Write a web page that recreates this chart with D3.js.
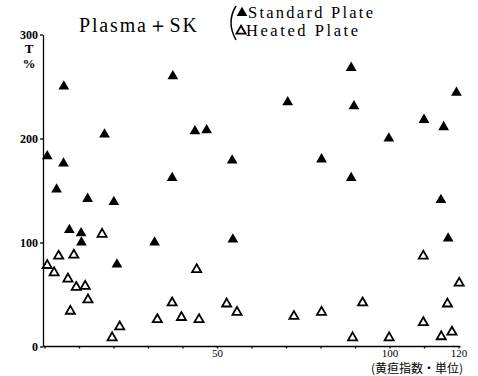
<!DOCTYPE html>
<html>
<head>
<meta charset="utf-8">
<script src="https://cdn.jsdelivr.net/npm/d3@7/dist/d3.min.js"></script>
<style>
  html, body { margin: 0; padding: 0; background: #fff; }
  svg { display: block; }
  text { font-family: "Liberation Serif", "DejaVu Serif", serif; fill: #000; }
</style>
</head>
<body>
<svg id="chart" width="478" height="376"></svg>
<script>
// Jaundice index (x) vs. T % (y), Plasma + SK
const standardX = [0.8, 5.6, 3.5, 5.5, 17.4, 12.5, 20.1, 37.2, 37.0, 7.2, 10.6, 10.7, 21.0, 31.9,
  43.6, 47.0, 54.4, 54.6, 70.5, 80.3, 88.9, 89.7, 88.9, 99.8, 110.0, 115.7, 119.4, 114.9, 117.0];
const standardY = [183, 250, 151, 176, 204, 142, 139, 260, 162, 112, 109, 100, 79, 100,
  207, 208, 179, 103, 235, 180, 268, 231, 162, 200, 218, 211, 244, 141, 104];

const heatedX = [0.8, 2.8, 4.1, 6.8, 8.5, 9.2, 11.8, 12.6, 7.5, 16.7, 19.6, 21.8, 32.7, 37.0, 39.7,
  44.1, 44.8, 52.8, 55.8, 72.3, 80.3, 89.3, 92.2, 99.9, 109.8, 109.8, 115.0, 116.8, 118.1, 120.2];
const heatedY = [78, 71, 87, 65, 88, 57, 58, 45, 34, 108, 8.5, 19, 26, 42, 28,
  74, 26, 41, 33, 29, 33, 8.5, 42, 8.5, 87, 23, 9.5, 41, 14, 61];

const yTicks = [0, 100, 200, 300];
const xTicks = [0, 10, 20, 30, 40, 50, 60, 70, 80, 90, 100, 110, 120];
const xLabeled = [50, 100, 120];

const svg = d3.select("#chart");

const x = d3.scaleLinear().domain([0, 120]).range([44.5, 458.5]);
const y = d3.scaleLinear().domain([0, 300]).range([346.5, 34.5]);

// y axis
const yAxis = svg.append("g")
  .attr("transform", "translate(43,0)")
  .call(d3.axisLeft(y).tickValues(yTicks).tickSize(3).tickSizeOuter(0).tickPadding(2));
yAxis.selectAll("text")
  .style("font-family", "'Liberation Serif', serif")
  .style("font-size", "12px")
  .style("font-weight", "bold")
  .attr("dy", "0.35em");

// x axis
const xAxis = svg.append("g")
  .attr("transform", "translate(0,346.5)")
  .call(d3.axisBottom(x).tickValues(xTicks).tickSize(2).tickSizeOuter(0).tickPadding(1)
    .tickFormat(d => xLabeled.includes(d) ? d : ""));
xAxis.select(".domain").attr("d", `M43,0H${x(120) + 2}`);
xAxis.selectAll("text")
  .style("font-family", "'Liberation Serif', serif")
  .style("font-size", "11px");
svg.selectAll(".domain, .tick line").attr("stroke", "#000").attr("stroke-width", 1.3);

// y axis unit
svg.append("text").attr("x", 29).attr("y", 53).attr("text-anchor", "middle")
  .style("font-size", "13px").style("font-weight", "bold").text("T");
svg.append("text").attr("x", 29).attr("y", 68).attr("text-anchor", "middle")
  .style("font-size", "13px").style("font-weight", "bold").text("%");

// x axis caption
svg.append("text").attr("x", 417).attr("y", 373).attr("text-anchor", "middle")
  .style("font-family", "'Noto Sans CJK JP', sans-serif")
  .style("font-size", "12px")
  .text("(黄疸指数・単位)");

// title
svg.append("text").attr("x", 79).attr("y", 32)
  .attr("textLength", 118).attr("lengthAdjust", "spacing")
  .style("font-size", "20px").text("Plasma＋SK");

// legend
svg.append("path")
  .attr("d", "M236,6 Q226,22 236,40")
  .attr("fill", "none").attr("stroke", "#000").attr("stroke-width", 1.5);
const tri = d3.symbol().type(d3.symbolTriangle);
svg.append("path").attr("d", tri.size(50)()).attr("transform", "translate(242,13)").attr("fill", "#000");
svg.append("path").attr("d", tri.size(36)()).attr("transform", "translate(241,31)")
  .attr("fill", "#fff").attr("stroke", "#000").attr("stroke-width", 1.8);
svg.append("text").attr("x", 248).attr("y", 18).attr("textLength", 125).attr("lengthAdjust", "spacing")
  .style("font-size", "16.5px").text("Standard Plate");
svg.append("text").attr("x", 246).attr("y", 36).attr("textLength", 112).attr("lengthAdjust", "spacing")
  .style("font-size", "16.5px").text("Heated Plate");

// markers
const standard = standardX.map((v, i) => ({ x: v, y: standardY[i] }));
const heated = heatedX.map((v, i) => ({ x: v, y: heatedY[i] }));

svg.append("g").selectAll("path").data(heated).join("path")
  .attr("d", d3.symbol().type(d3.symbolTriangle).size(36)())
  .attr("transform", d => `translate(${x(d.x)},${y(d.y)})`)
  .attr("fill", "#fff").attr("stroke", "#000").attr("stroke-width", 1.8);

svg.append("g").selectAll("path").data(standard).join("path")
  .attr("d", d3.symbol().type(d3.symbolTriangle).size(50)())
  .attr("transform", d => `translate(${x(d.x)},${y(d.y)})`)
  .attr("fill", "#000");
</script>
</body>
</html>
